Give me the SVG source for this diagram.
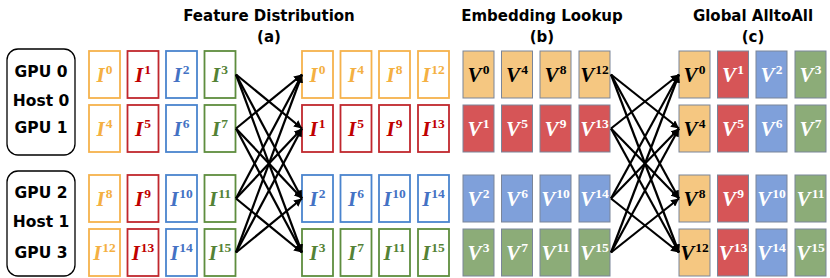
<svg xmlns="http://www.w3.org/2000/svg" width="830" height="278" viewBox="0 0 830 278">
<style>
.t{font-family:"DejaVu Sans",sans-serif;font-weight:bold;font-size:15px;fill:#000;text-anchor:middle}
.g{font-family:"DejaVu Sans",sans-serif;font-weight:bold;font-size:15.5px;fill:#000;text-anchor:middle}
.host{fill:#fff;stroke:#000;stroke-width:1.3}
.lb{font-family:"Liberation Serif",serif;font-weight:bold;font-style:italic;font-size:21px;text-anchor:middle}
.sp{font-style:normal;font-size:13.5px}
.oO{fill:#fff;stroke:#F5B24C;stroke-width:1.8}
.oR{fill:#fff;stroke:#C0272D;stroke-width:1.8}
.oB{fill:#fff;stroke:#4A84CE;stroke-width:1.8}
.oG{fill:#fff;stroke:#5E8D3E;stroke-width:1.8}
.cO{fill:#F4B042}.cR{fill:#C00000}.cB{fill:#4472C4}.cG{fill:#548235}
.fO{fill:#F5C781;stroke:#7a8599;stroke-width:1}
.fR{fill:#D65557;stroke:#7a8599;stroke-width:1}
.fB{fill:#7FA0DA;stroke:#7a8599;stroke-width:1}
.fG{fill:#8CAC78;stroke:#7a8599;stroke-width:1}
.k{fill:#000}.w{fill:#fff}
.c line{stroke:#000;stroke-width:2.2;marker-end:url(#ah)}
</style>
<defs>
<marker id="ah" markerUnits="userSpaceOnUse" markerWidth="9" markerHeight="8" refX="8" refY="4" orient="auto">
<path d="M0,0 L8,4 L0,8 Z" fill="#000"/>
</marker>
</defs>
<rect width="830" height="278" fill="#fff"/>

<g id="titles">
<text class="t" x="269" y="21">Feature Distribution</text>
<text class="t" x="269" y="42">(a)</text>
<text class="t" x="542" y="21">Embedding Lookup</text>
<text class="t" x="542" y="42">(b)</text>
<text class="t" x="753" y="21">Global AlltoAll</text>
<text class="t" x="753" y="42">(c)</text>
</g>

<g id="host0">
<rect class="host" x="7" y="49" width="68" height="106" rx="11"/>
<text class="g" x="41" y="77">GPU 0</text>
<text class="g" x="41" y="106">Host 0</text>
<text class="g" x="41" y="133">GPU 1</text>
</g>
<g id="host1">
<rect class="host" x="7" y="171" width="68" height="105" rx="11"/>
<text class="g" x="41" y="198">GPU 2</text>
<text class="g" x="41" y="227">Host 1</text>
<text class="g" x="41" y="258">GPU 3</text>
</g>

<!-- Input features -->
<g id="in-0"><rect class="oO" x="89" y="51" width="31" height="47"/><text class="lb cO" x="104.5" y="82">I<tspan class="sp" dx="1" dy="-8">0</tspan></text></g>
<g id="in-1"><rect class="oR" x="127.5" y="51" width="31" height="47"/><text class="lb cR" x="143" y="82">I<tspan class="sp" dx="1" dy="-8">1</tspan></text></g>
<g id="in-2"><rect class="oB" x="166" y="51" width="31" height="47"/><text class="lb cB" x="181.5" y="82">I<tspan class="sp" dx="1" dy="-8">2</tspan></text></g>
<g id="in-3"><rect class="oG" x="204.5" y="51" width="31" height="47"/><text class="lb cG" x="220" y="82">I<tspan class="sp" dx="1" dy="-8">3</tspan></text></g>

<g id="in-4"><rect class="oO" x="89" y="105" width="31" height="47"/><text class="lb cO" x="104.5" y="136">I<tspan class="sp" dx="1" dy="-8">4</tspan></text></g>
<g id="in-5"><rect class="oR" x="127.5" y="105" width="31" height="47"/><text class="lb cR" x="143" y="136">I<tspan class="sp" dx="1" dy="-8">5</tspan></text></g>
<g id="in-6"><rect class="oB" x="166" y="105" width="31" height="47"/><text class="lb cB" x="181.5" y="136">I<tspan class="sp" dx="1" dy="-8">6</tspan></text></g>
<g id="in-7"><rect class="oG" x="204.5" y="105" width="31" height="47"/><text class="lb cG" x="220" y="136">I<tspan class="sp" dx="1" dy="-8">7</tspan></text></g>

<g id="in-8"><rect class="oO" x="89" y="175" width="31" height="47"/><text class="lb cO" x="104.5" y="206">I<tspan class="sp" dx="1" dy="-8">8</tspan></text></g>
<g id="in-9"><rect class="oR" x="127.5" y="175" width="31" height="47"/><text class="lb cR" x="143" y="206">I<tspan class="sp" dx="1" dy="-8">9</tspan></text></g>
<g id="in-10"><rect class="oB" x="166" y="175" width="31" height="47"/><text class="lb cB" x="181.5" y="206">I<tspan class="sp" dx="1" dy="-8">10</tspan></text></g>
<g id="in-11"><rect class="oG" x="204.5" y="175" width="31" height="47"/><text class="lb cG" x="220" y="206">I<tspan class="sp" dx="1" dy="-8">11</tspan></text></g>

<g id="in-12"><rect class="oO" x="89" y="229" width="31" height="47"/><text class="lb cO" x="104.5" y="260">I<tspan class="sp" dx="1" dy="-8">12</tspan></text></g>
<g id="in-13"><rect class="oR" x="127.5" y="229" width="31" height="47"/><text class="lb cR" x="143" y="260">I<tspan class="sp" dx="1" dy="-8">13</tspan></text></g>
<g id="in-14"><rect class="oB" x="166" y="229" width="31" height="47"/><text class="lb cB" x="181.5" y="260">I<tspan class="sp" dx="1" dy="-8">14</tspan></text></g>
<g id="in-15"><rect class="oG" x="204.5" y="229" width="31" height="47"/><text class="lb cG" x="220" y="260">I<tspan class="sp" dx="1" dy="-8">15</tspan></text></g>

<!-- Distributed features -->
<g id="fd-0"><rect class="oO" x="302" y="51" width="31" height="47"/><text class="lb cO" x="317.5" y="82">I<tspan class="sp" dx="1" dy="-8">0</tspan></text></g>
<g id="fd-4"><rect class="oO" x="340.5" y="51" width="31" height="47"/><text class="lb cO" x="356" y="82">I<tspan class="sp" dx="1" dy="-8">4</tspan></text></g>
<g id="fd-8"><rect class="oO" x="379" y="51" width="31" height="47"/><text class="lb cO" x="394.5" y="82">I<tspan class="sp" dx="1" dy="-8">8</tspan></text></g>
<g id="fd-12"><rect class="oO" x="418" y="51" width="31" height="47"/><text class="lb cO" x="433.5" y="82">I<tspan class="sp" dx="1" dy="-8">12</tspan></text></g>

<g id="fd-1"><rect class="oR" x="302" y="105" width="31" height="47"/><text class="lb cR" x="317.5" y="136">I<tspan class="sp" dx="1" dy="-8">1</tspan></text></g>
<g id="fd-5"><rect class="oR" x="340.5" y="105" width="31" height="47"/><text class="lb cR" x="356" y="136">I<tspan class="sp" dx="1" dy="-8">5</tspan></text></g>
<g id="fd-9"><rect class="oR" x="379" y="105" width="31" height="47"/><text class="lb cR" x="394.5" y="136">I<tspan class="sp" dx="1" dy="-8">9</tspan></text></g>
<g id="fd-13"><rect class="oR" x="418" y="105" width="31" height="47"/><text class="lb cR" x="433.5" y="136">I<tspan class="sp" dx="1" dy="-8">13</tspan></text></g>

<g id="fd-2"><rect class="oB" x="302" y="175" width="31" height="47"/><text class="lb cB" x="317.5" y="206">I<tspan class="sp" dx="1" dy="-8">2</tspan></text></g>
<g id="fd-6"><rect class="oB" x="340.5" y="175" width="31" height="47"/><text class="lb cB" x="356" y="206">I<tspan class="sp" dx="1" dy="-8">6</tspan></text></g>
<g id="fd-10"><rect class="oB" x="379" y="175" width="31" height="47"/><text class="lb cB" x="394.5" y="206">I<tspan class="sp" dx="1" dy="-8">10</tspan></text></g>
<g id="fd-14"><rect class="oB" x="418" y="175" width="31" height="47"/><text class="lb cB" x="433.5" y="206">I<tspan class="sp" dx="1" dy="-8">14</tspan></text></g>

<g id="fd-3"><rect class="oG" x="302" y="229" width="31" height="47"/><text class="lb cG" x="317.5" y="260">I<tspan class="sp" dx="1" dy="-8">3</tspan></text></g>
<g id="fd-7"><rect class="oG" x="340.5" y="229" width="31" height="47"/><text class="lb cG" x="356" y="260">I<tspan class="sp" dx="1" dy="-8">7</tspan></text></g>
<g id="fd-11"><rect class="oG" x="379" y="229" width="31" height="47"/><text class="lb cG" x="394.5" y="260">I<tspan class="sp" dx="1" dy="-8">11</tspan></text></g>
<g id="fd-15"><rect class="oG" x="418" y="229" width="31" height="47"/><text class="lb cG" x="433.5" y="260">I<tspan class="sp" dx="1" dy="-8">15</tspan></text></g>

<!-- Embedding lookup -->
<g id="el-0"><rect class="fO" x="463" y="51" width="31" height="47"/><text class="lb k" x="478.5" y="82">V<tspan class="sp" dx="1" dy="-8">0</tspan></text></g>
<g id="el-4"><rect class="fO" x="501.5" y="51" width="31" height="47"/><text class="lb k" x="517" y="82">V<tspan class="sp" dx="1" dy="-8">4</tspan></text></g>
<g id="el-8"><rect class="fO" x="540" y="51" width="31" height="47"/><text class="lb k" x="555.5" y="82">V<tspan class="sp" dx="1" dy="-8">8</tspan></text></g>
<g id="el-12"><rect class="fO" x="579" y="51" width="31" height="47"/><text class="lb k" x="594.5" y="82">V<tspan class="sp" dx="1" dy="-8">12</tspan></text></g>

<g id="el-1"><rect class="fR" x="463" y="105" width="31" height="47"/><text class="lb w" x="478.5" y="136">V<tspan class="sp" dx="1" dy="-8">1</tspan></text></g>
<g id="el-5"><rect class="fR" x="501.5" y="105" width="31" height="47"/><text class="lb w" x="517" y="136">V<tspan class="sp" dx="1" dy="-8">5</tspan></text></g>
<g id="el-9"><rect class="fR" x="540" y="105" width="31" height="47"/><text class="lb w" x="555.5" y="136">V<tspan class="sp" dx="1" dy="-8">9</tspan></text></g>
<g id="el-13"><rect class="fR" x="579" y="105" width="31" height="47"/><text class="lb w" x="594.5" y="136">V<tspan class="sp" dx="1" dy="-8">13</tspan></text></g>

<g id="el-2"><rect class="fB" x="463" y="175" width="31" height="47"/><text class="lb w" x="478.5" y="206">V<tspan class="sp" dx="1" dy="-8">2</tspan></text></g>
<g id="el-6"><rect class="fB" x="501.5" y="175" width="31" height="47"/><text class="lb w" x="517" y="206">V<tspan class="sp" dx="1" dy="-8">6</tspan></text></g>
<g id="el-10"><rect class="fB" x="540" y="175" width="31" height="47"/><text class="lb w" x="555.5" y="206">V<tspan class="sp" dx="1" dy="-8">10</tspan></text></g>
<g id="el-14"><rect class="fB" x="579" y="175" width="31" height="47"/><text class="lb w" x="594.5" y="206">V<tspan class="sp" dx="1" dy="-8">14</tspan></text></g>

<g id="el-3"><rect class="fG" x="463" y="229" width="31" height="47"/><text class="lb w" x="478.5" y="260">V<tspan class="sp" dx="1" dy="-8">3</tspan></text></g>
<g id="el-7"><rect class="fG" x="501.5" y="229" width="31" height="47"/><text class="lb w" x="517" y="260">V<tspan class="sp" dx="1" dy="-8">7</tspan></text></g>
<g id="el-11"><rect class="fG" x="540" y="229" width="31" height="47"/><text class="lb w" x="555.5" y="260">V<tspan class="sp" dx="1" dy="-8">11</tspan></text></g>
<g id="el-15"><rect class="fG" x="579" y="229" width="31" height="47"/><text class="lb w" x="594.5" y="260">V<tspan class="sp" dx="1" dy="-8">15</tspan></text></g>

<!-- Global AlltoAll -->
<g id="ga-0"><rect class="fO" x="679" y="51" width="31" height="47"/><text class="lb k" x="694.5" y="82">V<tspan class="sp" dx="1" dy="-8">0</tspan></text></g>
<g id="ga-1"><rect class="fR" x="717.5" y="51" width="31" height="47"/><text class="lb w" x="733" y="82">V<tspan class="sp" dx="1" dy="-8">1</tspan></text></g>
<g id="ga-2"><rect class="fB" x="756" y="51" width="31" height="47"/><text class="lb w" x="771.5" y="82">V<tspan class="sp" dx="1" dy="-8">2</tspan></text></g>
<g id="ga-3"><rect class="fG" x="795" y="51" width="31" height="47"/><text class="lb w" x="810.5" y="82">V<tspan class="sp" dx="1" dy="-8">3</tspan></text></g>

<g id="ga-4"><rect class="fO" x="679" y="105" width="31" height="47"/><text class="lb k" x="694.5" y="136">V<tspan class="sp" dx="1" dy="-8">4</tspan></text></g>
<g id="ga-5"><rect class="fR" x="717.5" y="105" width="31" height="47"/><text class="lb w" x="733" y="136">V<tspan class="sp" dx="1" dy="-8">5</tspan></text></g>
<g id="ga-6"><rect class="fB" x="756" y="105" width="31" height="47"/><text class="lb w" x="771.5" y="136">V<tspan class="sp" dx="1" dy="-8">6</tspan></text></g>
<g id="ga-7"><rect class="fG" x="795" y="105" width="31" height="47"/><text class="lb w" x="810.5" y="136">V<tspan class="sp" dx="1" dy="-8">7</tspan></text></g>

<g id="ga-8"><rect class="fO" x="679" y="175" width="31" height="47"/><text class="lb k" x="694.5" y="206">V<tspan class="sp" dx="1" dy="-8">8</tspan></text></g>
<g id="ga-9"><rect class="fR" x="717.5" y="175" width="31" height="47"/><text class="lb w" x="733" y="206">V<tspan class="sp" dx="1" dy="-8">9</tspan></text></g>
<g id="ga-10"><rect class="fB" x="756" y="175" width="31" height="47"/><text class="lb w" x="771.5" y="206">V<tspan class="sp" dx="1" dy="-8">10</tspan></text></g>
<g id="ga-11"><rect class="fG" x="795" y="175" width="31" height="47"/><text class="lb w" x="810.5" y="206">V<tspan class="sp" dx="1" dy="-8">11</tspan></text></g>

<g id="ga-12"><rect class="fO" x="679" y="229" width="31" height="47"/><text class="lb k" x="694.5" y="260">V<tspan class="sp" dx="1" dy="-8">12</tspan></text></g>
<g id="ga-13"><rect class="fR" x="717.5" y="229" width="31" height="47"/><text class="lb w" x="733" y="260">V<tspan class="sp" dx="1" dy="-8">13</tspan></text></g>
<g id="ga-14"><rect class="fB" x="756" y="229" width="31" height="47"/><text class="lb w" x="771.5" y="260">V<tspan class="sp" dx="1" dy="-8">14</tspan></text></g>
<g id="ga-15"><rect class="fG" x="795" y="229" width="31" height="47"/><text class="lb w" x="810.5" y="260">V<tspan class="sp" dx="1" dy="-8">15</tspan></text></g>

<g id="connectors" class="c">
<line x1="236" y1="74.5" x2="302" y2="128.5"/>
<line x1="236" y1="74.5" x2="302" y2="198.5"/>
<line x1="236" y1="74.5" x2="302" y2="252.5"/>
<line x1="236" y1="128.5" x2="302" y2="74.5"/>
<line x1="236" y1="128.5" x2="302" y2="198.5"/>
<line x1="236" y1="128.5" x2="302" y2="252.5"/>
<line x1="236" y1="198.5" x2="302" y2="74.5"/>
<line x1="236" y1="198.5" x2="302" y2="128.5"/>
<line x1="236" y1="198.5" x2="302" y2="252.5"/>
<line x1="236" y1="252.5" x2="302" y2="74.5"/>
<line x1="236" y1="252.5" x2="302" y2="128.5"/>
<line x1="236" y1="252.5" x2="302" y2="198.5"/>

<line x1="611" y1="74.5" x2="679" y2="128.5"/>
<line x1="611" y1="74.5" x2="679" y2="198.5"/>
<line x1="611" y1="74.5" x2="679" y2="252.5"/>
<line x1="611" y1="128.5" x2="679" y2="74.5"/>
<line x1="611" y1="128.5" x2="679" y2="198.5"/>
<line x1="611" y1="128.5" x2="679" y2="252.5"/>
<line x1="611" y1="198.5" x2="679" y2="74.5"/>
<line x1="611" y1="198.5" x2="679" y2="128.5"/>
<line x1="611" y1="198.5" x2="679" y2="252.5"/>
<line x1="611" y1="252.5" x2="679" y2="74.5"/>
<line x1="611" y1="252.5" x2="679" y2="128.5"/>
<line x1="611" y1="252.5" x2="679" y2="198.5"/>
</g>
</svg>
